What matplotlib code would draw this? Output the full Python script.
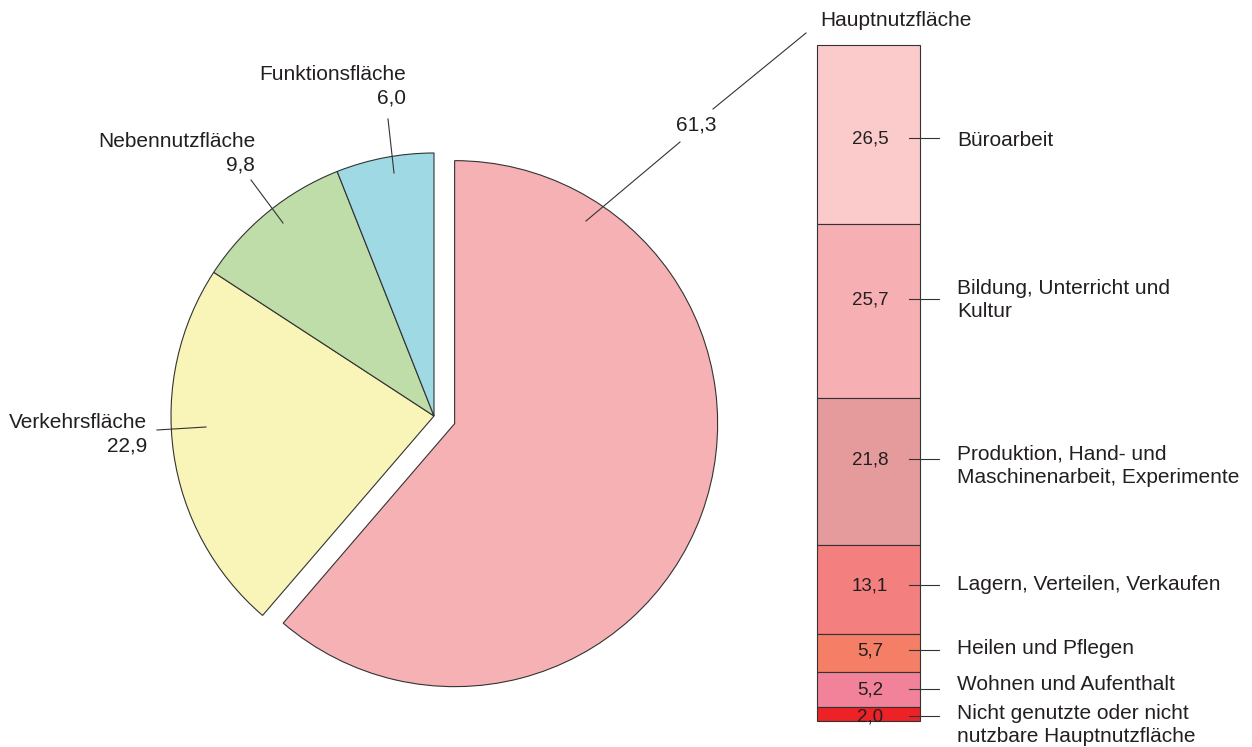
import matplotlib
matplotlib.use("Agg")
import matplotlib.pyplot as plt
import numpy as np

# Pie: share of total floor area (%)
pie_labels = ["Hauptnutzfläche", "Verkehrsfläche", "Nebennutzfläche", "Funktionsfläche"]
pie_values = [61.3, 22.9, 9.8, 6.0]
pie_colors = ["#F6B1B4", "#F9F4B7", "#BFDDA9", "#9ED9E4"]

# Stacked bar: breakdown of Hauptnutzfläche (%)
bar_labels = [
    "Büroarbeit",
    "Bildung, Unterricht und\nKultur",
    "Produktion, Hand- und\nMaschinenarbeit, Experimente",
    "Lagern, Verteilen, Verkaufen",
    "Heilen und Pflegen",
    "Wohnen und Aufenthalt",
    "Nicht genutzte oder nicht\nnutzbare Hauptnutzfläche",
]
bar_values = [26.5, 25.7, 21.8, 13.1, 5.7, 5.2, 2.0]
bar_colors = ["#FBCBCC", "#F6AFB2", "#E59A9B", "#F37F7F", "#F47F66", "#F18299", "#EC2227"]

W, H = 1252, 747
FONT = "Liberation Sans"
TXT = "#231F20"
EDGE = "#333333"


def Y(y):
    # pixel row (from top) -> axis y
    return H - y


def fmt(v):
    return f"{v:.1f}".replace(".", ",")


fig = plt.figure(figsize=(W / 100, H / 100), dpi=100)
ax = fig.add_axes([0, 0, 1, 1])

# ---- pie ---- (explode is in data units here, i.e. pixels)
ax.pie(pie_values, colors=pie_colors, startangle=90, counterclock=False,
       explode=[22, 0, 0, 0], center=(434, Y(416)), radius=263,
       wedgeprops=dict(edgecolor=EDGE, linewidth=0.8))

lk = dict(color=EDGE, linewidth=0.8)
tk = dict(family=FONT, fontsize=15, color=TXT)

# Hauptnutzfläche
ax.plot([806, 713], [Y(33), Y(109)], **lk)
ax.plot([680, 586], [Y(142), Y(221)], **lk)
ax.text(820, Y(20), pie_labels[0], ha="left", va="center", **tk)
ax.text(696, Y(125), fmt(pie_values[0]), ha="center", va="center", **tk)

# other slices: right-aligned two-line labels
pie_lab_pos = [None, (147, 434), (255, 153), (406, 86)]
pie_lines = [None, ((157, 430), (206, 427)), ((251, 180), (283, 223)), ((388, 119), (394, 173))]
for i in range(1, 4):
    x, y = pie_lab_pos[i]
    ax.text(x, Y(y), f"{pie_labels[i]}\n{fmt(pie_values[i])}", ha="right", va="center",
            multialignment="right", linespacing=1.3, **tk)
    (x0, y0), (x1, y1) = pie_lines[i]
    ax.plot([x0, x1], [Y(y0), Y(y1)], **lk)

# ---- stacked bar ----
bar_top, bar_bottom = 45, 721
scale = (bar_bottom - bar_top) / sum(bar_values)
heights = np.array(bar_values) * scale
bottoms = Y(bar_top) - np.cumsum(heights)
ax.bar(868.5, heights, width=103, bottom=bottoms, color=bar_colors,
       edgecolor=EDGE, linewidth=0.8)

line_y = [138, 299, 459, 585, 650, 689, 716]
text_y = [140, 300, 466, 585, 649, 684, 725]
for i, lab in enumerate(bar_labels):
    ax.text(870, Y(line_y[i] + 1), fmt(bar_values[i]), ha="center", va="center",
            family=FONT, fontsize=13.5, color=TXT)
    ax.plot([909, 939], [Y(line_y[i]), Y(line_y[i])], **lk)
    ax.text(957, Y(text_y[i]), lab, ha="left", va="center", linespacing=1.3, **tk)

ax.set_xlim(0, W)
ax.set_ylim(0, H)
ax.set_aspect("auto")
ax.axis("off")

fig.savefig("out.png", dpi=100, facecolor="white")
